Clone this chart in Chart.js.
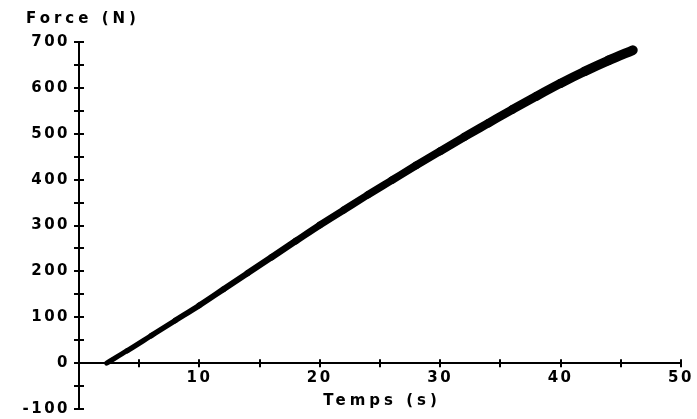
<!DOCTYPE html>
<html>
<head>
<meta charset="utf-8">
<script src="https://cdn.jsdelivr.net/npm/chart.js@4/dist/chart.umd.min.js"></script>
<style>
  html, body { margin: 0; padding: 0; background: #fff; }
  #wrap { width: 697px; height: 419px; }
</style>
</head>
<body>
<div id="wrap"><canvas id="forceChart" width="697" height="419"></canvas></div>
<script>
// measured force vs time
const timeS = [2.3, 4, 6, 8, 10, 12, 14, 16, 18, 20, 22, 24, 26, 28, 30, 32, 34, 36, 38, 40, 42, 44, 46];
const forceN = [0, 27, 60, 93, 126, 161, 196, 231, 266, 301, 334, 367, 399, 431, 462, 493, 523, 553, 582, 610, 636, 660, 682];

// axis ranges and labels
const X_MIN = 0, X_MAX = 50, X_STEP = 5;
const Y_MIN = -100, Y_MAX = 700, Y_STEP = 50;
const X_TITLE = "Temps (s)";
const Y_TITLE = "Force (N)";

const LABEL_FONT = { family: "DejaVu Sans", size: 15, weight: "bold" };
const SPACING = "2.5px";

// keep label overhang from shrinking the plot area
function noPadding(scale) {
  scale.paddingLeft = 0;
  scale.paddingRight = 0;
  scale.paddingTop = 0;
  scale.paddingBottom = 0;
}

// tick marks crossing both sides of the axes + axis titles
const axisDecor = {
  id: "axisDecor",
  beforeDraw(chart) {
    chart.ctx.letterSpacing = SPACING;
  },
  afterDraw(chart) {
    const ctx = chart.ctx;
    const xs = chart.scales.x;
    const ys = chart.scales.y;
    const x0 = xs.getPixelForValue(0);
    const y0 = ys.getPixelForValue(0);
    ctx.save();
    ctx.strokeStyle = "#000";
    ctx.lineWidth = 2;
    ctx.beginPath();
    ys.ticks.forEach((t) => {
      const py = Math.round(ys.getPixelForValue(t.value));
      ctx.moveTo(x0 - 5, py);
      ctx.lineTo(x0 + 5, py);
    });
    xs.ticks.forEach((t) => {
      if (t.value === 0) return;
      const px = Math.round(xs.getPixelForValue(t.value));
      ctx.moveTo(px, y0 - 4);
      ctx.lineTo(px, y0 + 4);
    });
    ctx.stroke();

    ctx.fillStyle = "#000";
    ctx.font = "bold 15px 'DejaVu Sans'";
    ctx.letterSpacing = "4px";
    ctx.textBaseline = "middle";
    ctx.textAlign = "left";
    ctx.fillText(Y_TITLE, 26, 19);
    ctx.textAlign = "center";
    ctx.fillText(X_TITLE, (xs.left + xs.right) / 2 + 2, 401);
    ctx.restore();
  },
};

new Chart(document.getElementById("forceChart"), {
  type: "line",
  data: {
    datasets: [
      {
        data: timeS.map((t, i) => ({ x: t, y: forceN[i] })),
        borderColor: "#000",
        borderWidth: 7,
        // band gets a bit wider towards the end of the run
        segment: {
          borderWidth: (c) => 5 + (5 * c.p0DataIndex) / (timeS.length - 1),
        },
        borderCapStyle: "round",
        pointRadius: 0,
        cubicInterpolationMode: "monotone",
        fill: false,
      },
    ],
  },
  options: {
    responsive: false,
    animation: false,
    layout: { padding: { left: 0, right: 16, top: 42, bottom: 10 } },
    plugins: {
      legend: { display: false },
      tooltip: { enabled: false },
    },
    scales: {
      x: {
        type: "linear",
        position: { y: 0 },
        min: X_MIN,
        max: X_MAX,
        grid: { display: false, tickLength: 0 },
        border: { display: true, color: "#000", width: 2 },
        afterFit: noPadding,
        ticks: {
          stepSize: X_STEP,
          autoSkip: false,
          maxRotation: 0,
          padding: 6,
          color: "#000",
          font: LABEL_FONT,
          callback: (v) => (v % 10 === 0 && v !== 0 ? v : ""),
        },
      },
      y: {
        type: "linear",
        position: "left",
        min: Y_MIN,
        max: Y_MAX,
        grid: { display: false, tickLength: 0 },
        border: { display: true, color: "#000", width: 2 },
        afterFit(scale) {
          noPadding(scale);
          scale.width = 79;
        },
        ticks: {
          stepSize: Y_STEP,
          autoSkip: false,
          padding: 9,
          color: "#000",
          font: LABEL_FONT,
          callback: (v) => (v % 100 === 0 ? v : ""),
        },
      },
    },
  },
  plugins: [axisDecor],
});
</script>
</body>
</html>
